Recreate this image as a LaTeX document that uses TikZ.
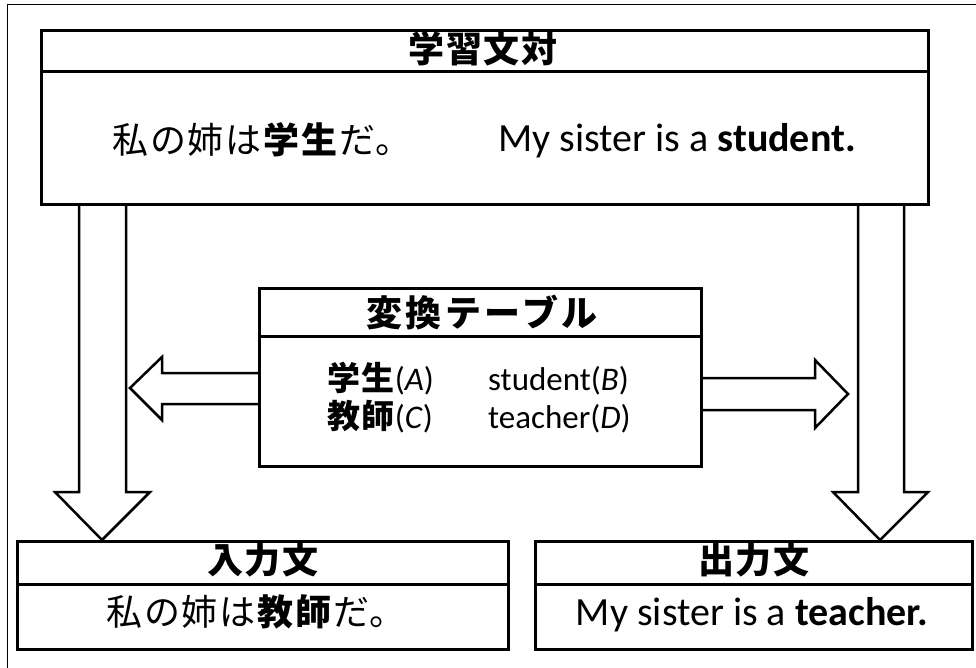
\documentclass[tikz,border=0pt]{standalone}
\usepackage{fontspec}
\setmainfont{Carlito}
\newfontfamily\jp{Noto Sans CJK JP}[LetterSpace=5]
\newfontfamily\jpwide{Noto Sans CJK JP}[LetterSpace=10]
\usetikzlibrary{calc}
\tikzset{
  frameline/.style={line width=1pt},
  box/.style={draw, line width=3pt, inner sep=0pt, anchor=north west},
  sepline/.style={line width=3pt},
  barrow/.style={draw, line width=2.5pt, line join=miter},
  jph/.style={inner sep=0pt, font=\jp\bfseries\fontsize{36}{40}\selectfont},
  jphw/.style={inner sep=0pt, font=\jpwide\bfseries\fontsize{36}{40}\selectfont},
  jpb/.style={inner sep=0pt, font=\jp\fontsize{36}{40}\selectfont},
  en/.style={inner sep=0pt, anchor=base, font=\fontsize{40}{44}\selectfont},
  cell/.style={inner sep=0pt, anchor=base west, font=\fontsize{33}{38}\selectfont},
}
\begin{document}
\begin{tikzpicture}[x=1pt,y=-1pt]
\useasboundingbox (0,0) rectangle (976,668);
\fill[white] (0,0) rectangle (976,668);
\draw[frameline] (7,668) -- (7,5) -- (976,5);

% boxes
\node[box, minimum width=887pt, minimum height=174pt] (top) at (40,29) {};
\node[box, minimum width=442pt, minimum height=178pt] (tbl) at (258,287) {};
\node[box, minimum width=491pt, minimum height=108pt] (in) at (16,540) {};
\node[box, minimum width=437pt, minimum height=108pt] (out) at (534,540) {};

% header separators
\draw[sepline] (top.west |- 0,72) -- (top.east |- 0,72);
\draw[sepline] (tbl.west |- 0,336) -- (tbl.east |- 0,336);
\draw[sepline] (in.west |- 0,584) -- (in.east |- 0,584);
\draw[sepline] (out.west |- 0,584) -- (out.east |- 0,584);

% block arrows
\draw[barrow] (79,0 |- top.south) -- (79,492) -- (55,492) -- (102,0 |- in.north)
  -- (150,492) -- (126,492) -- (126,0 |- top.south);
\draw[barrow] (858,0 |- top.south) -- (858,492) -- (833,492) -- (880,0 |- out.north)
  -- (928,492) -- (904,492) -- (904,0 |- top.south);
\draw[barrow] (tbl.west |- 0,373) -- (162,373) -- (162,357) -- (130,388)
  -- (162,420) -- (162,404) -- (tbl.west |- 0,404);
\draw[barrow] (tbl.east |- 0,378) -- (815,378) -- (815,360) -- (848,394)
  -- (815,428) -- (815,410) -- (tbl.east |- 0,410);

% texts
\node[jph] (toph) at (483,49) {学習文対};
\node[jpb] (topj) at (262,140) {私の姉は\textbf{学生}だ。};
\node[en] (tope) at (677,152) {My sister is a \textbf{student.}};

\node[jphw] (tblh) at (482,313) {変換テーブル};
\node[cell] (r1a) at (327,390) {{\jp\bfseries 学生}(\textit{A})};
\node[cell] (r1b) at (488,390) {student(\textit{B})};
\node[cell] (r2a) at (327,428) {{\jp\bfseries 教師}(\textit{C})};
\node[cell] (r2b) at (488,428) {teacher(\textit{D})};

\node[jph] (inh) at (263,560) {入力文};
\node[jpb] (inj) at (256,612) {私の姉は\textbf{教師}だ。};
\node[jph] (outh) at (754,560) {出力文};
\node[en] (oute) at (752,625) {My sister is a \textbf{teacher.}};
\end{tikzpicture}
\end{document}
